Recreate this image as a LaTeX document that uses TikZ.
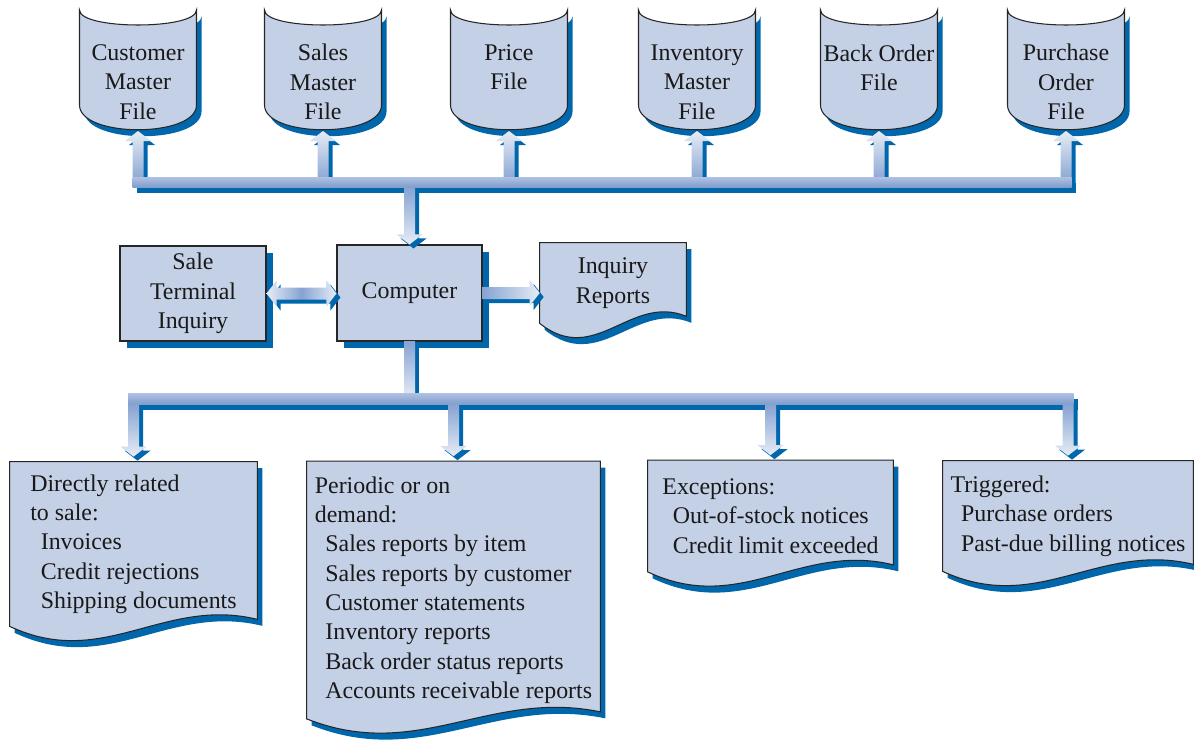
\documentclass[tikz,border=0pt]{standalone}
\usepackage{fontspec}
\setmainfont{Liberation Serif}
\usetikzlibrary{calc,shadows,backgrounds,fit}

\definecolor{boxfill}{RGB}{195,208,230}
\definecolor{sdblue}{RGB}{0,103,172}
\definecolor{arrmid}{RGB}{135,163,210}
\definecolor{arrlight}{RGB}{230,236,246}
\definecolor{bustop}{RGB}{176,194,227}
\definecolor{busbot}{RGB}{128,157,204}

\tikzset{
  txt/.style={font=\fontsize{13.6}{16.7}\selectfont, text=black!90},
  box/.style={txt, draw=black!85, line width=0.6pt, fill=boxfill, align=center, inner sep=0pt,
    drop shadow={shadow xshift=1.4mm, shadow yshift=-1.4mm, opacity=1, fill=sdblue}},
  filetxt/.style={txt, align=center},
  doctxt/.style={txt, align=left, inner sep=0pt},
  docbody/.style={draw=black!85, line width=0.6pt, fill=boxfill,
    drop shadow={shadow xshift=1mm, shadow yshift=-1.3mm, opacity=1, fill=sdblue}},
  fatarrow/.style={drop shadow={shadow xshift=0.8mm, shadow yshift=-0.8mm, opacity=1, fill=sdblue}},
  busbar/.style={top color=bustop, bottom color=busbot, inner sep=0pt,
    drop shadow={shadow xshift=0.8mm, shadow yshift=-1.1mm, opacity=1, fill=sdblue}},
}

% indent for the listed outputs
\newcommand\docitem{\hspace*{2.1mm}}

% disk file around a text node (x from the node)
\newcommand\filecyl[1]{%
  \path[docbody] ($(#1 |- 0,10)+(-58.5,0)$) .. controls +(0,20) and +(0,20) .. ++(117,0)
    -- ++(0,95) .. controls +(0,33) and +(0,33) .. ++(-117,0) -- cycle;}

% printed document: flat top, wavy bottom
\newcommand\docpath[1]{%
  \path[docbody] (#1.north west) -- (#1.north east) -- ([yshift=1.4mm]#1.south east)
    .. controls ($(#1.south west)!0.62!(#1.south east)+(0,-30)$)
    and ($(#1.south west)!0.38!(#1.south east)+(0,44)$) .. (#1.south west) -- cycle;}

% fat arrows, #1 = tail, #2 = tip
\newcommand\upfat[2]{%
  \path[fatarrow, top color=arrlight, bottom color=arrmid]
    ($(#1)+(-5.5,0)$) -- ($(#2)+(-5.5,10)$) -- ($(#2)+(-13,10)$) -- (#2)
    -- ($(#2)+(13,10)$) -- ($(#2)+(5.5,10)$) -- ($(#1)+(5.5,0)$) -- cycle;}
\newcommand\downfat[2]{%
  \path[fatarrow, top color=arrmid, bottom color=arrlight]
    ($(#1)+(-5.5,0)$) -- ($(#2)+(-5.5,-10)$) -- ($(#2)+(-13,-10)$) -- (#2)
    -- ($(#2)+(13,-10)$) -- ($(#2)+(5.5,-10)$) -- ($(#1)+(5.5,0)$) -- cycle;}
\newcommand\rightfat[2]{%
  \path[fatarrow, left color=arrmid, right color=arrlight]
    ($(#1)+(0,-6)$) -- ($(#2)+(-10,-6)$) -- ($(#2)+(-10,-13)$) -- (#2)
    -- ($(#2)+(-10,13)$) -- ($(#2)+(-10,6)$) -- ($(#1)+(0,6)$) -- cycle;}
\newcommand\dblfat[2]{%
  \path[fatarrow, left color=arrlight, right color=arrlight, middle color=arrmid]
    (#1) -- ($(#1)+(10,-13)$) -- ($(#1)+(10,-6)$) -- ($(#2)+(-10,-6)$) -- ($(#2)+(-10,-13)$) -- (#2)
    -- ($(#2)+(-10,13)$) -- ($(#2)+(-10,6)$) -- ($(#1)+(10,6)$) -- ($(#1)+(10,13)$) -- cycle;}

\begin{document}
\begin{tikzpicture}[x=0.2mm, y=-0.2mm]
\useasboundingbox (0,0) rectangle (1194,740);

% files
\node[filetxt] (cmf) at (138,82) {Customer\\Master\\File};
\node[filetxt] (smf) at (323,82) {Sales\\Master\\File};
\node[filetxt] (prf) at (509,67.5) {Price\\File};
\node[filetxt] (imf) at (697,82) {Inventory\\Master\\File};
\node[filetxt] (bof) at (879,67.5) {Back Order\\File};
\node[filetxt] (pof) at (1066,82) {Purchase\\Order\\File};

% middle row
\node[box, minimum width=29.2mm, minimum height=19mm] (ste) at (193,293.5) {Sale\\Terminal\\Inquiry};
\node[box, minimum width=29mm, minimum height=19.2mm] (comp) at (409.5,293) {Computer};
\node[doctxt, align=center, minimum width=29.2mm, minimum height=16mm] (irep) at (613,283) {Inquiry\\Reports};

% outputs
\node[doctxt, minimum width=49.4mm, minimum height=32.8mm] (direct) at (133.5,544)
  {Directly related\\to sale:\\\docitem Invoices\\\docitem Credit rejections\\\docitem Shipping documents};
\node[doctxt, minimum width=58.6mm, minimum height=51.4mm] (periodic) at (453.5,590)
  {Periodic or on\\demand:\\\docitem Sales reports by item\\\docitem Sales reports by customer\\
   \docitem Customer statements\\\docitem Inventory reports\\\docitem Back order status reports\\
   \docitem Accounts receivable reports};
\node[doctxt, minimum width=49mm, minimum height=22.2mm] (except) at (770.5,516)
  {Exceptions:\\\docitem Out-of-stock notices\\\docitem Credit limit exceeded};
\node[doctxt, minimum width=50mm, minimum height=22mm] (trigger) at (1068,516)
  {Triggered:\\\docitem Purchase orders\\\docitem Past-due billing notices};

\begin{scope}[on background layer]
  \foreach \f in {cmf,smf,prf,imf,bof,pof} \filecyl{\f};
  \foreach \d in {irep,direct,periodic,except,trigger} \docpath{\d};
\end{scope}

% file bus
\foreach \f in {cmf,smf,prf,imf,bof,pof} \upfat{\f |- 0,182}{\f |- 0,131};
\node[busbar, fit={(132.5,177) (1071.5,187)}] (topbus) {};
\downfat{comp |- topbus.south}{comp.north};

\dblfat{ste.east}{ste.east -| comp.west};
\rightfat{comp.east}{comp.east -| irep.west};

% output bus
\path[fatarrow, top color=arrmid, bottom color=arrlight]
  ($(comp.south)+(-5.5,0)$) rectangle ($(comp.south |- 0,398)+(5.5,0)$);
\node[busbar, fit={(128,393) (1073.5,404)}] (lowbus) {};
\foreach \d in {direct,periodic,except,trigger} \downfat{\d |- lowbus.south}{[yshift=1mm]\d.north};
\end{tikzpicture}
\end{document}
